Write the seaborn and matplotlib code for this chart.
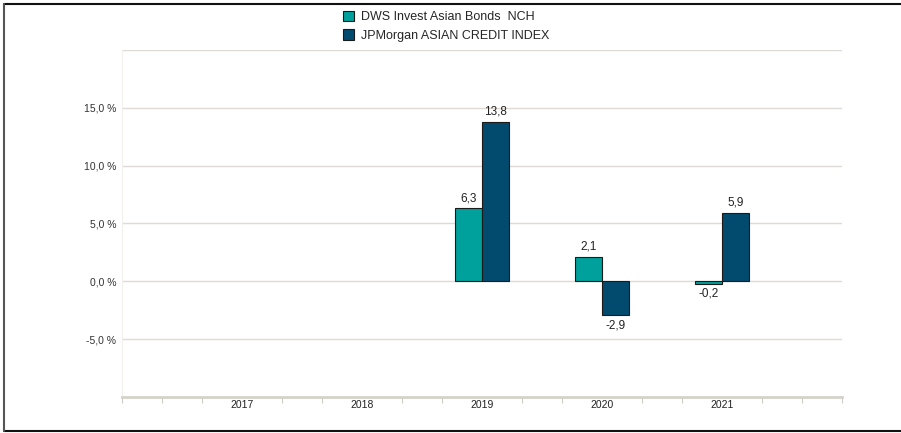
import matplotlib
matplotlib.use("Agg")
import matplotlib.pyplot as plt
import matplotlib.patches as mpatches
import matplotlib.lines as mlines
import seaborn as sns
import pandas as pd
import numpy as np

years = ["2017", "2018", "2019", "2020", "2021"]
fund_name = "DWS Invest Asian Bonds  NCH"
index_name = "JPMorgan ASIAN CREDIT INDEX"
fund_values = [np.nan, np.nan, 6.3, 2.1, -0.2]
index_values = [np.nan, np.nan, 13.8, -2.9, 5.9]
ytick_values = [-5, 0, 5, 10, 15]
ytick_labels = ["-5,0 %", "0,0 %", "5,0 %", "10,0 %", "15,0 %"]

colors = {fund_name: "#00A09C", index_name: "#024A6E"}

df = pd.DataFrame({
    "year": years * 2,
    "series": [fund_name] * len(years) + [index_name] * len(years),
    "value": fund_values + index_values,
})

sns.set_theme(style="white")
plt.rcParams["font.family"] = ["Liberation Sans", "DejaVu Sans"]

fig = plt.figure(figsize=(9.01, 4.33), dpi=100)
W, H = 901, 433
ax = fig.add_axes([122 / W, (H - 397) / H, (842 - 122) / W, (397 - 50) / H])

sns.barplot(data=df, x="year", y="value", hue="series", order=years,
            hue_order=[fund_name, index_name], palette=colors, saturation=1,
            width=0.45, edgecolor="#1a1a1a", linewidth=0.8, ax=ax,
            errorbar=None)

for c in ax.containers:
    labs = [f"{v:.1f}".replace(".", ",") if not np.isnan(v) else "" for v in c.datavalues]
    ax.bar_label(c, labels=labs, padding=3, fontsize=8.5, color="#222222")

ax.set_xlim(-1, 5)
ax.set_ylim(-10, 20)
ax.set_yticks(ytick_values)
ax.set_yticklabels(ytick_labels, fontsize=7.5, color="#333333")
ax.set_xticks(range(len(years)))
ax.set_xticklabels(years, fontsize=7.5, color="#222222")
ax.tick_params(axis="y", length=0, pad=4)
ax.tick_params(axis="x", which="major", length=0, pad=2)
minor = [v for v in np.arange(-1, 5.01, 1 / 3) if abs(v - round(v)) > 0.01 or round(v) in (-1, 5)]
ax.set_xticks(minor, minor=True)
ax.tick_params(axis="x", which="minor", length=4, width=0.8, color="#cfcac2", direction="out", bottom=True)
ax.set_xlabel("")
ax.set_ylabel("")

for y in [-5, 0, 5, 10, 15, 20]:
    ax.axhline(y, color="#dedbd6", linewidth=1.0, zorder=0)

for s in ["top", "right"]:
    ax.spines[s].set_visible(False)
ax.spines["left"].set_color("#f2f0ed")
ax.spines["left"].set_linewidth(0.8)
ax.spines["bottom"].set_color("#d6d2cb")
ax.spines["bottom"].set_linewidth(2)

handles, labels = ax.get_legend_handles_labels()
ax.get_legend().remove()
handles = [mpatches.Patch(facecolor=colors[l], edgecolor="#1a1a1a", linewidth=0.8) for l in labels]
fig.legend(handles, labels, loc="upper left", bbox_to_anchor=(340 / W, 1 - 8 / H),
           frameon=False, fontsize=9, handlelength=0.9, handleheight=0.9,
           handletextpad=0.6, labelspacing=0.5, borderaxespad=0, borderpad=0.2)

# outer frame: top, left, bottom
fig.add_artist(mlines.Line2D([4 / W, 1.0], [1 - 4 / H, 1 - 4 / H], transform=fig.transFigure,
                             color="#111111", linewidth=1.5))
fig.add_artist(mlines.Line2D([4 / W, 1.0], [1 - 431 / H, 1 - 431 / H], transform=fig.transFigure,
                             color="#111111", linewidth=1.5))
fig.add_artist(mlines.Line2D([4 / W, 4 / W], [1 - 4 / H, 1 - 431 / H], transform=fig.transFigure,
                             color="#555555", linewidth=1.5))

fig.savefig("out.png", dpi=100, facecolor="white")
